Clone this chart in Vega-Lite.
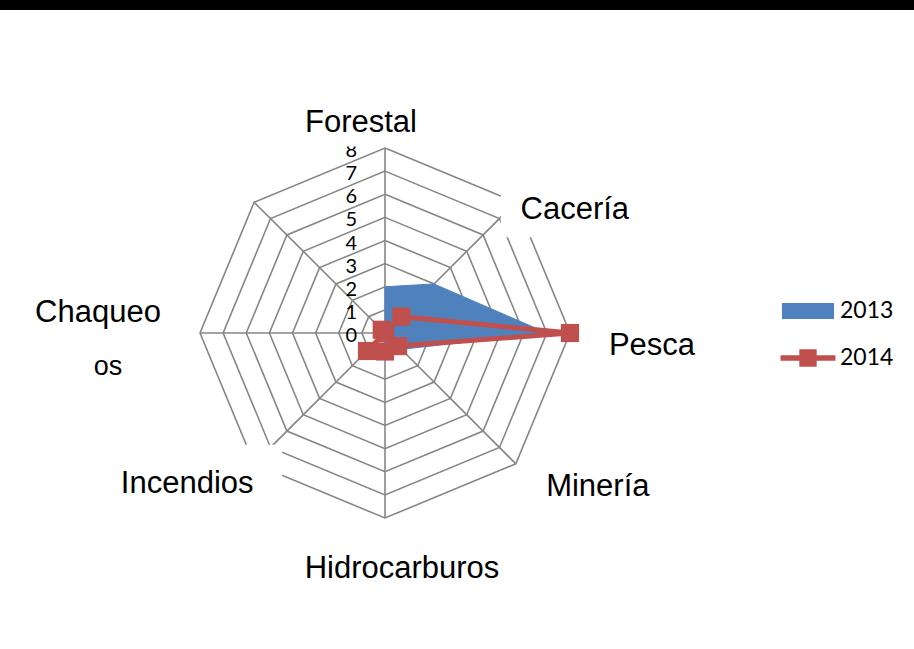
{
  "$schema": "https://vega.github.io/schema/vega-lite/v6.json",
  "width": 914,
  "height": 649,
  "autosize": {"type": "fit", "contains": "padding"},
  "padding": {"top": 10, "left": 0, "right": 0, "bottom": 0},
  "background": "black",
  "config": {"view": {"fill": "white", "stroke": null}},
  "datasets": {
    "cats": [
      {"cat": "Forestal", "i": 0},
      {"cat": "Cacería", "i": 1},
      {"cat": "Pesca", "i": 2},
      {"cat": "Minería", "i": 3},
      {"cat": "Hidrocarburos", "i": 4},
      {"cat": "Incendios", "i": 5},
      {"cat": "Chaqueo", "i": 6},
      {"cat": "Arqueológicos", "i": 7}
    ],
    "vals": [
      {"cat": "Forestal", "year": "2013", "value": 2},
      {"cat": "Cacería", "year": "2013", "value": 3},
      {"cat": "Pesca", "year": "2013", "value": 7},
      {"cat": "Minería", "year": "2013", "value": 1},
      {"cat": "Hidrocarburos", "year": "2013", "value": 0.4},
      {"cat": "Incendios", "year": "2013", "value": 0},
      {"cat": "Chaqueo", "year": "2013", "value": 0},
      {"cat": "Arqueológicos", "year": "2013", "value": 0},
      {"cat": "Forestal", "year": "2014", "value": 0},
      {"cat": "Cacería", "year": "2014", "value": 1},
      {"cat": "Pesca", "year": "2014", "value": 8},
      {"cat": "Minería", "year": "2014", "value": 0.8},
      {"cat": "Hidrocarburos", "year": "2014", "value": 0.8},
      {"cat": "Incendios", "year": "2014", "value": 1.1},
      {"cat": "Chaqueo", "year": "2014", "value": 0},
      {"cat": "Arqueológicos", "year": "2014", "value": 0.2}
    ],
    "ticks": [{"t": 0}, {"t": 1}, {"t": 2}, {"t": 3}, {"t": 4}, {"t": 5}, {"t": 6}, {"t": 7}, {"t": 8}],
    "rings": [
      {"level": 1, "idx": [0, 1, 2, 3, 4, 5, 6, 7]},
      {"level": 2, "idx": [0, 1, 2, 3, 4, 5, 6, 7]},
      {"level": 3, "idx": [0, 1, 2, 3, 4, 5, 6, 7]},
      {"level": 4, "idx": [0, 1, 2, 3, 4, 5, 6, 7]},
      {"level": 5, "idx": [0, 1, 2, 3, 4, 5, 6, 7]},
      {"level": 6, "idx": [0, 1, 2, 3, 4, 5, 6, 7]},
      {"level": 7, "idx": [0, 1, 2, 3, 4, 5, 6, 7]},
      {"level": 8, "idx": [0, 1, 2, 3, 4, 5, 6, 7]}
    ]
  },
  "encoding": {
    "x": {"field": "px", "type": "quantitative", "scale": {"domain": [-16.649, 22.876], "nice": false, "zero": false}, "axis": null},
    "y": {"field": "py", "type": "quantitative", "scale": {"domain": [-13.665, 13.968], "nice": false, "zero": false}, "axis": null}
  },
  "layer": [
    {
      "data": {"name": "rings"},
      "transform": [
        {"flatten": ["idx"]},
        {"calculate": "datum.level * sin(datum.idx * PI / 4)", "as": "px"},
        {"calculate": "datum.level * cos(datum.idx * PI / 4)", "as": "py"}
      ],
      "mark": {"type": "line", "interpolate": "linear-closed", "stroke": "#868686", "strokeWidth": 1.6},
      "encoding": {
        "detail": {"field": "level", "type": "nominal"},
        "order": {"field": "idx", "type": "quantitative"}
      }
    },
    {
      "data": {"name": "cats"},
      "transform": [
        {"calculate": "0", "as": "px"},
        {"calculate": "0", "as": "py"},
        {"calculate": "8 * sin(datum.i * PI / 4)", "as": "ex"},
        {"calculate": "8 * cos(datum.i * PI / 4)", "as": "ey"}
      ],
      "mark": {"type": "rule", "stroke": "#868686", "strokeWidth": 1.6},
      "encoding": {
        "x2": {"field": "ex"},
        "y2": {"field": "ey"}
      }
    },
    {
      "data": {"name": "vals"},
      "transform": [
        {"lookup": "cat", "from": {"data": {"name": "cats"}, "key": "cat", "fields": ["i"]}},
        {"calculate": "datum.value * sin(datum.i * PI / 4)", "as": "px"},
        {"calculate": "datum.value * cos(datum.i * PI / 4)", "as": "py"}
      ],
      "encoding": {
        "color": {
          "field": "year",
          "type": "nominal",
          "scale": {"domain": ["2013", "2014"], "range": ["#4F81BD", "#C0504D"]},
          "legend": {
            "orient": "none",
            "legendX": 780,
            "legendY": 273,
            "title": null,
            "padding": 0,
            "symbolSize": 3136,
            "rowPadding": 7,
            "labelOffset": 4,
            "labelFont": "Lato",
            "labelFontSize": 23,
            "labelColor": "black",
            "encode": {
              "symbols": {
                "update": {
                  "shape": {"signal": "datum.value == '2013' ? 'M-0.93,-0.29H0.93V0.29H-0.93Z' : 'M-0.98,-0.1H0.98V0.1H-0.98Z M-0.31,-0.31H0.31V0.31H-0.31Z'"},
                  "fill": {"scale": "color", "field": "value"},
                  "stroke": {"value": "transparent"},
                  "strokeWidth": {"value": 0},
                  "opacity": {"value": 1}
                }
              }
            }
          }
        },
        "order": {"field": "i", "type": "quantitative"}
      },
      "layer": [
        {
          "transform": [{"filter": "datum.year == '2013'"}],
          "mark": {"type": "line", "interpolate": "linear-closed", "fill": "#4F81BD", "strokeWidth": 1}
        },
        {
          "transform": [{"filter": "datum.year == '2014'"}],
          "mark": {"type": "line", "interpolate": "linear-closed", "strokeWidth": 5}
        },
        {
          "transform": [{"filter": "datum.year == '2014'"}],
          "mark": {"type": "point", "shape": "square", "filled": true, "size": 330, "opacity": 1}
        }
      ]
    },
    {
      "data": {"name": "ticks"},
      "transform": [
        {"calculate": "0", "as": "px"},
        {"calculate": "datum.t", "as": "py"}
      ],
      "mark": {"type": "text", "align": "right", "baseline": "middle", "dx": -28, "dy": 3, "font": "Lato", "fontSize": 20, "color": "black"},
      "encoding": {"text": {"field": "t", "type": "quantitative"}}
    },
    {
      "data": {"name": "cats"},
      "transform": [
        {"calculate": "8 * sin(datum.i * PI / 4)", "as": "px"},
        {"calculate": "8 * cos(datum.i * PI / 4)", "as": "py"}
      ],
      "mark": {"type": "point", "filled": true, "fill": "white", "stroke": null, "opacity": 1, "size": 40000},
      "layer": [
        {"transform": [{"filter": "datum.cat == 'Forestal'"}], "mark": {"type": "point", "filled": true, "fill": "white", "strokeWidth": 0, "opacity": 1, "size": 40000, "shape": "M-0.85,-0.55H0.8V-0.015H-0.85Z"}},
        {"transform": [{"filter": "datum.cat == 'Cacería'"}], "mark": {"type": "point", "filled": true, "fill": "white", "strokeWidth": 0, "opacity": 1, "size": 40000, "shape": "M-0.15,-0.30H1.34V0.35H-0.15Z"}},
        {"transform": [{"filter": "datum.cat == 'Incendios'"}], "mark": {"type": "point", "filled": true, "fill": "white", "strokeWidth": 0, "opacity": 1, "size": 40000, "shape": "M-1.44,-0.19H0.28V0.56H-1.44Z"}}
      ]
    },
    {
      "data": {"name": "cats"},
      "transform": [
        {"calculate": "8 * sin(datum.i * PI / 4)", "as": "px"},
        {"calculate": "8 * cos(datum.i * PI / 4)", "as": "py"}
      ],
      "encoding": {"text": {"field": "cat", "type": "nominal"}},
      "layer": [
        {"transform": [{"filter": "datum.cat == 'Forestal'"}], "mark": {"type": "text", "align": "center", "baseline": "alphabetic", "dx": -24, "dy": -16, "font": "Liberation Sans Narrow, Liberation Sans", "fontSize": 31, "color": "black"}},
        {"transform": [{"filter": "datum.cat == 'Cacería'"}], "mark": {"type": "text", "align": "center", "baseline": "alphabetic", "dx": 59, "dy": 17, "font": "Liberation Sans Narrow, Liberation Sans", "fontSize": 31, "color": "black"}},
        {"transform": [{"filter": "datum.cat == 'Pesca'"}], "mark": {"type": "text", "align": "center", "baseline": "alphabetic", "dx": 82, "dy": 22, "font": "Liberation Sans Narrow, Liberation Sans", "fontSize": 31, "color": "black"}},
        {"transform": [{"filter": "datum.cat == 'Minería'"}], "mark": {"type": "text", "align": "center", "baseline": "alphabetic", "dx": 82, "dy": 32, "font": "Liberation Sans Narrow, Liberation Sans", "fontSize": 31, "color": "black"}},
        {"transform": [{"filter": "datum.cat == 'Hidrocarburos'"}], "mark": {"type": "text", "align": "center", "baseline": "alphabetic", "dx": 17, "dy": 60, "font": "Liberation Sans Narrow, Liberation Sans", "fontSize": 31, "color": "black"}},
        {"transform": [{"filter": "datum.cat == 'Incendios'"}], "mark": {"type": "text", "align": "center", "baseline": "alphabetic", "dx": -67, "dy": 29, "font": "Liberation Sans Narrow, Liberation Sans", "fontSize": 31, "color": "black"}},
        {"transform": [{"filter": "datum.cat == 'Chaqueo'"}], "mark": {"type": "text", "align": "center", "baseline": "alphabetic", "dx": -102, "dy": -11, "font": "Liberation Sans Narrow, Liberation Sans", "fontSize": 31, "color": "black"}},
        {"transform": [{"filter": "datum.cat == 'Chaqueo'"}], "mark": {"type": "text", "align": "center", "baseline": "alphabetic", "dx": -92, "dy": 42, "font": "Liberation Sans Narrow, Liberation Sans", "fontSize": 27, "color": "black"}, "encoding": {"text": {"value": "os"}}}
      ]
    }
  ]
}
